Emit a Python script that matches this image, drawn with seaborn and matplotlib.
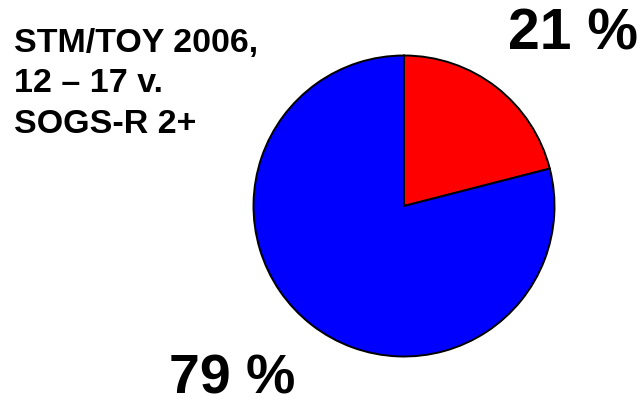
import matplotlib
matplotlib.use("Agg")
import matplotlib.pyplot as plt
import seaborn as sns

sns.set_theme(style="white")
plt.rcParams['font.family'] = ['Liberation Sans', 'DejaVu Sans']

labels = ["21 %", "79 %"]
values = [21, 79]
colors = ["#FF0000", "#0000FF"]
title_lines = ["STM/TOY 2006,", "12 \u2013 17 v.", "SOGS-R 2+"]

fig = plt.figure(figsize=(6.43, 4.05), dpi=100)
ax = fig.add_axes([(404 - 152) / 643, (405 - 206 - 152) / 405, 304 / 643, 304 / 405])
ax.pie(values, colors=colors, startangle=90, counterclock=False,
       wedgeprops=dict(edgecolor="black", linewidth=1.4))
ax.set_aspect("equal")
ax.set_xlim(-1.01, 1.01)
ax.set_ylim(-1.01, 1.01)

fig.text(573 / 643, 1 - 50 / 405, labels[0], ha="center", va="baseline",
         fontsize=41, fontweight="bold", color="black")
fig.text(232 / 643, 1 - 393 / 405, labels[1], ha="center", va="baseline",
         fontsize=40, fontweight="bold", color="black")
for i, line in enumerate(title_lines):
    fig.text(14 / 643, 1 - (52 + 40.5 * i) / 405, line, ha="left", va="baseline",
             fontsize=24.5, fontweight="bold", color="black")

fig.savefig("out.png", dpi=100)
